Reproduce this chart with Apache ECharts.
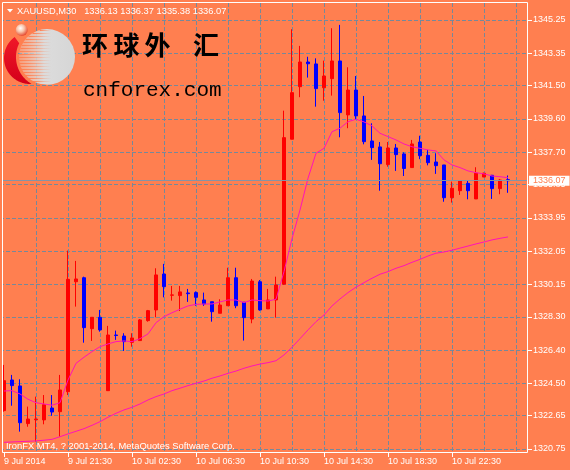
<!DOCTYPE html>
<html><head><meta charset="utf-8">
<script src="https://cdn.jsdelivr.net/npm/echarts@6/dist/echarts.min.js"></script>
<style>html,body{margin:0;padding:0;background:#FF7F50;}#c{width:570px;height:470px;}</style>
</head><body><div id="c"></div>
<script>
const symbolName = 'XAUUSD';
const period = 'M30';
const categories = [
 '9 Jul 17:30','9 Jul 18:00','9 Jul 18:30','9 Jul 19:00','9 Jul 19:30','9 Jul 20:00','9 Jul 20:30','9 Jul 21:00',
 '9 Jul 21:30','9 Jul 22:00','9 Jul 22:30','9 Jul 23:00','9 Jul 23:30','10 Jul 01:00','10 Jul 01:30','10 Jul 02:00',
 '10 Jul 02:30','10 Jul 03:00','10 Jul 03:30','10 Jul 04:00','10 Jul 04:30','10 Jul 05:00','10 Jul 05:30','10 Jul 06:00',
 '10 Jul 06:30','10 Jul 07:00','10 Jul 07:30','10 Jul 08:00','10 Jul 08:30','10 Jul 09:00','10 Jul 09:30','10 Jul 10:00',
 '10 Jul 10:30','10 Jul 11:00','10 Jul 11:30','10 Jul 12:00','10 Jul 12:30','10 Jul 13:00','10 Jul 13:30','10 Jul 14:00',
 '10 Jul 14:30','10 Jul 15:00','10 Jul 15:30','10 Jul 16:00','10 Jul 16:30','10 Jul 17:00','10 Jul 17:30','10 Jul 18:00',
 '10 Jul 18:30','10 Jul 19:00','10 Jul 19:30','10 Jul 20:00','10 Jul 20:30','10 Jul 21:00','10 Jul 21:30','10 Jul 22:00',
 '10 Jul 22:30','10 Jul 23:00','10 Jul 23:30','11 Jul 01:00','11 Jul 01:30','11 Jul 02:00','11 Jul 02:30','11 Jul 03:00'
];
const opens = [1322.94,1324.69,1324.35,1322.20,1322.42,1322.41,1323.09,1322.88,1324.02,1330.30,
 1330.53,1327.62,1328.27,1324.08,1327.26,1327.20,1326.84,1326.94,1328.08,1328.69,
 1330.74,1329.53,1329.51,1329.66,1329.68,1329.26,1329.16,1328.50,1328.93,1330.53,
 1329.13,1328.17,1330.30,1328.75,1329.26,1330.16,1338.44,1341.44,1342.85,1342.74,
 1341.38,1341.90,1342.91,1339.83,1341.25,1339.77,1338.34,1338.00,1336.99,1337.94,
 1337.60,1336.82,1338.28,1337.52,1337.14,1336.97,1335.10,1335.50,1335.92,1335.03,
 1336.28,1336.38,1335.62,1336.13];
const highs = [1325.55,1324.98,1324.73,1323.17,1323.74,1323.83,1323.83,1324.98,1332.08,1331.49,
 1330.59,1328.27,1328.69,1327.78,1327.51,1327.36,1327.36,1328.17,1328.69,1331.07,
 1331.32,1330.06,1330.06,1329.89,1329.75,1329.68,1329.16,1329.30,1331.10,1331.10,
 1329.13,1330.46,1330.40,1329.89,1330.59,1340.07,1344.72,1343.77,1343.15,1343.06,
 1342.93,1344.78,1344.97,1342.55,1342.05,1340.91,1339.35,1338.28,1338.28,1338.17,
 1337.69,1338.40,1338.64,1337.83,1337.64,1336.97,1336.02,1336.11,1336.07,1336.84,
 1336.53,1336.40,1336.17,1336.37];
const lows = [1322.88,1323.22,1321.74,1322.02,1321.17,1322.16,1322.65,1321.45,1323.83,1328.88,
 1326.82,1326.92,1327.45,1324.08,1326.98,1326.35,1326.59,1326.92,1328.02,1328.27,
 1329.41,1329.22,1328.63,1329.15,1328.93,1328.92,1328.02,1328.50,1328.93,1328.79,
 1326.94,1327.93,1328.65,1328.75,1328.25,1330.12,1338.44,1340.84,1341.96,1340.30,
 1340.64,1340.93,1338.55,1339.07,1339.54,1338.15,1337.26,1335.50,1336.87,1336.63,
 1336.34,1336.82,1337.30,1336.95,1336.46,1334.87,1334.82,1335.26,1335.01,1335.03,
 1336.28,1335.03,1335.30,1335.38];
const closes = [1324.65,1324.37,1322.25,1322.46,1322.46,1323.28,1322.86,1324.12,1330.44,1330.46,
 1327.68,1328.27,1327.55,1327.26,1327.23,1326.88,1327.09,1328.12,1328.65,1330.69,
 1330.02,1329.55,1329.72,1329.62,1329.41,1329.03,1328.59,1328.97,1330.53,1328.93,
 1328.25,1330.34,1328.69,1329.26,1330.12,1338.53,1341.10,1342.85,1342.75,1341.33,
 1342.05,1342.91,1339.96,1341.25,1339.77,1338.30,1337.96,1337.04,1337.94,1337.56,
 1336.77,1338.17,1337.50,1337.10,1336.93,1335.10,1335.64,1336.07,1335.50,1336.50,
 1336.50,1335.62,1336.11,1336.07];
const fastMA = [1324.06,1324.08,1323.89,1323.59,1323.39,1323.32,1323.25,1323.39,1324.69,1325.64,
 1325.99,1326.31,1326.59,1326.75,1326.88,1326.92,1326.88,1327.05,1327.32,1327.96,
 1328.31,1328.53,1328.73,1328.92,1329.01,1329.03,1329.03,1329.15,1329.26,1329.26,
 1329.11,1329.26,1329.22,1329.20,1329.30,1330.88,1332.76,1334.40,1336.21,1337.64,
 1337.92,1338.87,1339.07,1339.44,1339.58,1339.43,1339.20,1338.78,1338.59,1338.40,
 1338.17,1338.01,1337.92,1337.83,1337.77,1337.26,1336.97,1336.82,1336.63,1336.53,
 1336.46,1336.34,1336.30,1336.24];
const slowMA = [1321.13,1321.15,1321.17,1321.19,1321.21,1321.25,1321.30,1321.45,1321.61,1321.76,
 1321.91,1322.10,1322.31,1322.56,1322.79,1322.98,1323.13,1323.32,1323.55,1323.74,
 1323.89,1324.08,1324.22,1324.37,1324.50,1324.63,1324.79,1324.92,1325.07,1325.20,
 1325.36,1325.49,1325.60,1325.68,1325.79,1326.12,1326.56,1327.05,1327.55,1328.02,
 1328.40,1328.92,1329.32,1329.68,1329.99,1330.25,1330.50,1330.73,1330.88,1331.07,
 1331.22,1331.41,1331.58,1331.77,1331.93,1332.00,1332.10,1332.22,1332.34,1332.46,
 1332.57,1332.69,1332.78,1332.86];
const yTicks = [1320.75,1322.65,1324.50,1326.40,1328.30,1330.15,1332.05,1333.95,1335.85,1337.70,1339.60,1341.50,1343.35,1345.25];
const xLabels = ['9 Jul 2014','9 Jul 21:30','10 Jul 02:30','10 Jul 06:30','10 Jul 10:30','10 Jul 14:30','10 Jul 18:30','10 Jul 22:30'];
const copyright = 'IronFX MT4, ? 2001-2014, MetaQuotes Software Corp.';
const logoCN = ['环','球','外','汇'];
const logoEN = 'cnforex.com';

const BG = '#FF7F50', GRIDC = '#778899', UP = '#FF0000', DOWN = '#0000FF', MAC = '#FF12B8';
const FONT = 'Liberation Sans';
const LABEL_STEP = 8, GRID_STEP = 4;
const cats = categories.concat([' ', '  ']);
const candles = opens.map((o, i) => [o, closes[i], lows[i], highs[i]]);
const last = candles.length - 1;
const title = symbolName + ',' + period + '   ' + [opens[last], highs[last], lows[last], closes[last]].map(v => v.toFixed(2)).join(' ');

const G = echarts.graphic;
const logo = [];
(function () {
  const c1 = [30, 58], r1 = 26, c2 = [47, 57], r2 = 31, tMax = 4.1;
  const outer = [], inner = [];
  for (let t = 0; t < 2 * Math.PI; t += 0.02) {
    const p = [c1[0] + r1 * Math.cos(t), c1[1] + r1 * Math.sin(t)];
    if (Math.hypot(p[0] - c2[0], p[1] - c2[1]) > r2 && t <= tMax) outer.push(p);
  }
  for (let t = 2 * Math.PI; t > 0; t -= 0.02) {
    const p = [c2[0] + r2 * Math.cos(t), c2[1] + r2 * Math.sin(t)];
    const a = (Math.atan2(p[1] - c1[1], p[0] - c1[0]) + 2 * Math.PI) % (2 * Math.PI);
    if (Math.hypot(p[0] - c1[0], p[1] - c1[1]) < r1 && a <= tMax && a > 1) inner.push(p);
  }
  logo.push({ type: 'polygon', z: 100, shape: { points: outer.concat(inner) },
    style: { fill: new G.LinearGradient(0, 0, 0, 1, [{ offset: 0, color: '#F01828' }, { offset: 1, color: '#D4001A' }]) } });
  const gc = [47, 57], gr = 28;
  logo.push({ type: 'circle', z: 100, shape: { cx: gc[0], cy: gc[1], r: gr },
    style: { fill: new G.LinearGradient(0, 0, 1, 0, [{ offset: 0, color: 'rgba(235,220,212,0.3)' }, { offset: 0.45, color: '#DCDCDC' }, { offset: 1, color: '#D6D6D6' }]) } });
  for (let y = gc[1] - gr + 1; y < gc[1] + gr; y += 3) {
    const half = Math.sqrt(Math.max(0, gr * gr - (y - gc[1]) * (y - gc[1])));
    const x0 = gc[0] - half;
    logo.push({ type: 'rect', z: 101, shape: { x: x0, y: y, width: gc[0] + 4 - x0, height: 1 },
      style: { fill: new G.LinearGradient(0, 0, 1, 0, [{ offset: 0, color: BG }, { offset: 1, color: 'rgba(255,127,80,0)' }]) } });
  }
  logo.push({ type: 'circle', z: 102, shape: { cx: 21.7, cy: 30, r: 6 },
    style: { fill: new G.RadialGradient(0.4, 0.35, 0.7, [{ offset: 0, color: '#FFFFFF' }, { offset: 0.45, color: '#F9C2A8' }, { offset: 1, color: '#E23A22' }]) } });
  const cnX = [95, 126.5, 157.5, 206];
  logoCN.forEach((ch, i) => logo.push({ type: 'text', z: 102, x: cnX[i], y: 45,
    style: { text: ch, fill: '#000', font: 'bold 26px "Noto Sans CJK SC"', textAlign: 'center', textVerticalAlign: 'middle' } }));
  logo.push({ type: 'text', z: 102, x: 83, y: 80,
    style: { text: logoEN, fill: '#000', font: '21px "Liberation Mono"', textAlign: 'left', textBaseline: 'alphabetic' } });
})();

const chart = echarts.init(document.getElementById('c'), null, { renderer: 'canvas' });
chart.setOption({
  backgroundColor: BG,
  animation: false,
  grid: { left: 0, top: 3, width: 528, height: 450 },
  xAxis: {
    type: 'category', data: cats, boundaryGap: true,
    axisLine: { show: false },
    axisTick: { show: true, alignWithLabel: true, length: 4, interval: i => i % LABEL_STEP === 0 && i / LABEL_STEP < xLabels.length, lineStyle: { color: '#fff' } },
    axisLabel: { interval: i => i % LABEL_STEP === 0 && i / LABEL_STEP < xLabels.length, formatter: (v, i) => xLabels[i / LABEL_STEP] || '',
      color: '#fff', fontSize: 9, fontFamily: FONT, align: 'left', margin: 4, hideOverlap: false },
    splitLine: { show: true, alignWithLabel: true, interval: i => i > 0 && i % GRID_STEP === 0, lineStyle: { color: GRIDC, type: [4, 2], width: 1 } }
  },
  yAxis: {
    type: 'value', position: 'right', min: 1320.52, max: 1346.22,
    axisLine: { show: false },
    axisTick: { show: true, customValues: yTicks, length: 4, lineStyle: { color: '#fff' } },
    axisLabel: { customValues: yTicks, formatter: v => v.toFixed(2), color: '#fff', fontSize: 9, fontFamily: FONT, margin: 5 },
    splitLine: { show: true, lineStyle: { color: GRIDC, type: [4, 2], width: 1 } }
  },
  series: [
    { type: 'candlestick', data: candles, barWidth: 4, silent: true,
      itemStyle: { color: UP, color0: DOWN, borderColor: UP, borderColor0: DOWN, borderWidth: 1 },
      markLine: { silent: true, symbol: ['none', 'none'], animation: false,
        lineStyle: { color: '#8494A6', type: 'solid', width: 1 },
        label: { show: true, position: 'end', distance: 1, formatter: () => closes[last].toFixed(2),
          backgroundColor: '#fff', color: BG, fontSize: 9, fontFamily: FONT, padding: [1, 4, 0, 4], lineHeight: 9 },
        emphasis: { disabled: true },
        data: [{ yAxis: closes[last] }] } },
    { type: 'line', data: fastMA, symbol: 'none', silent: true, z: 3, lineStyle: { color: MAC, width: 1 }, itemStyle: { color: MAC } },
    { type: 'line', data: slowMA, symbol: 'none', silent: true, z: 3, lineStyle: { color: MAC, width: 1 }, itemStyle: { color: MAC } }
  ],
  graphic: [
    { type: 'rect', z: 90, shape: { x: 0, y: 0, width: 2, height: 470 }, style: { fill: BG } },
    { type: 'rect', z: 95, shape: { x: 2.5, y: 2.5, width: 525, height: 450 }, style: { fill: 'none', stroke: '#fff', lineWidth: 1 } },
    { type: 'polygon', z: 95, shape: { points: [[7, 9], [13, 9], [10, 12.5]] }, style: { fill: '#fff' } },
    { type: 'text', z: 95, x: 17, y: 11, style: { text: title, fill: '#fff', font: '9.3px "Liberation Sans"', textVerticalAlign: 'middle' } },
    { type: 'text', z: 95, x: 6, y: 446, style: { text: copyright, fill: '#fff', font: '9.4px "Liberation Sans"', textVerticalAlign: 'middle' } }
  ].concat(logo)
});
</script></body></html>
